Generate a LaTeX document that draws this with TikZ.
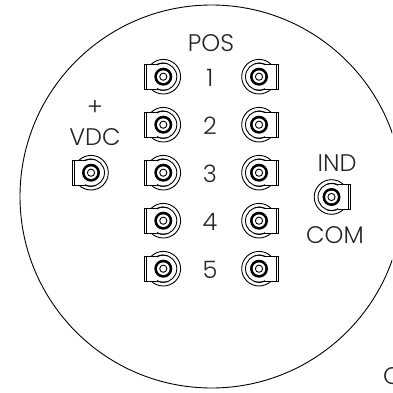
\documentclass[tikz,border=0pt]{standalone}
\usepackage{fontspec}
\setmainfont{Poppins}[UprightFont=* Light]
\tikzset{
  px/.style={x=1pt,y=-1pt},
  lbl/.style={inner sep=0pt,font=\fontsize{24}{24}\selectfont,text=black!85},
  outline/.style={draw=black,line width=0.9pt,fill=white},
  conn/.pic={
    \draw[line width=0.9pt,fill=white] (0,0) circle (17.3);
    \draw[line width=0.9pt] (0,0) circle (13.5);
    \draw[line width=0.9pt,fill=white] (-6,-12.5) -- (-19,-12.5) -- (-19,12.5) -- (-6,12.5);
    \draw[line width=0.9pt] (-17,-12.5) -- (-17,12.5);
    \draw[line width=0.9pt] (-6,-12.5) arc (-115:-70:13.5);
    \draw[line width=0.9pt] (-6,12.5) arc (115:70:13.5);
    \fill[black] (0,0) circle (9);
    \fill[white] (0,0) circle (6.3);
    \draw[line width=0.9pt] (0,0) circle (3.6);
  }
}
\begin{document}
\begin{tikzpicture}[px]
\useasboundingbox (0,0) rectangle (392,393);
\clip (0,0) rectangle (392,393);
\node[circle,draw,line width=0.9pt,minimum size=383pt,inner sep=0pt] (rim) at (211.5,196.5) {};
\foreach \n/\y in {1/76.7,2/124.7,3/172.7,4/220.7,5/268.7}{
  \pic at (163.3,\y) {conn};
  \pic[xscale=-1] at (259,\y) {conn};
  \node[lbl] (p\n) at (210,\y+1) {\n};
}
\pic at (91,172.7) {conn};
\pic[xscale=-1] at (331.5,197) {conn};
\node[lbl] (pos) at (211,43) {POS};
\node[lbl] (plus) at (95,108) {+};
\node[lbl] (vdc) at (95,137) {VDC};
\node[lbl] (ind) at (337,163) {IND};
\node[lbl] (com) at (335,235) {COM};
\node[lbl,anchor=west] (c) at (383,376) {C};
\end{tikzpicture}
\end{document}
